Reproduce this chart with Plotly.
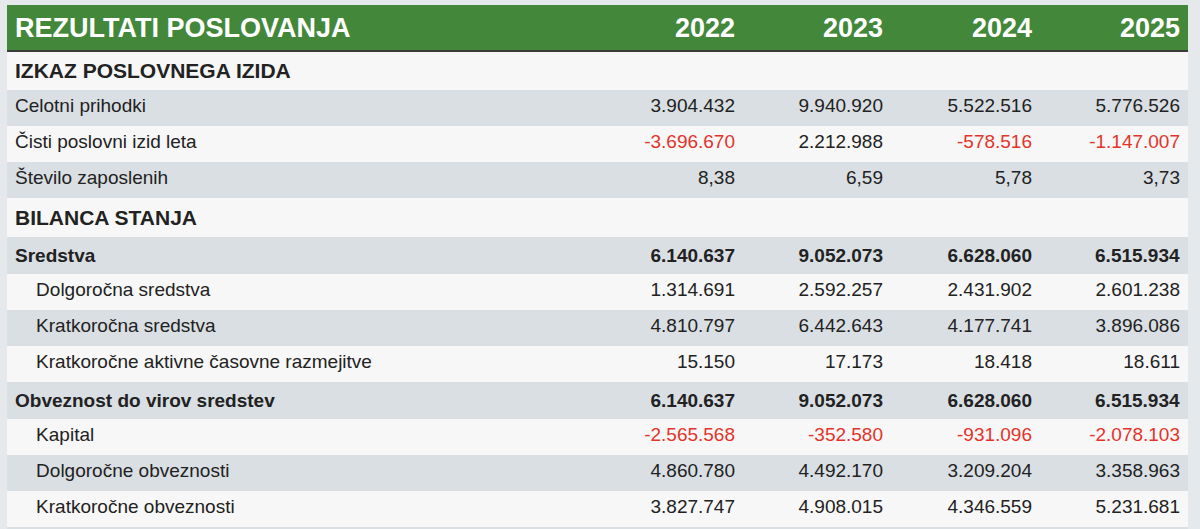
import plotly.graph_objects as go

years = ["2022", "2023", "2024", "2025"]
rows = [
    "IZKAZ POSLOVNEGA IZIDA",
    "Celotni prihodki",
    "Čisti poslovni izid leta",
    "Število zaposlenih",
    "BILANCA STANJA",
    "Sredstva",
    "Dolgoročna sredstva",
    "Kratkoročna sredstva",
    "Kratkoročne aktivne časovne razmejitve",
    "Obveznost do virov sredstev",
    "Kapital",
    "Dolgoročne obveznosti",
    "Kratkoročne obveznosti",
]
# row kind: section title, bold total, indented sub-item, plain
kinds = ["section", "plain", "plain", "plain", "section", "total", "sub", "sub", "sub",
         "total", "sub", "sub", "sub"]
v2022 = [None, 3904432, -3696670, 8.38, None, 6140637, 1314691, 4810797, 15150, 6140637, -2565568, 4860780, 3827747]
v2023 = [None, 9940920, 2212988, 6.59, None, 9052073, 2592257, 6442643, 17173, 9052073, -352580, 4492170, 4908015]
v2024 = [None, 5522516, -578516, 5.78, None, 6628060, 2431902, 4177741, 18418, 6628060, -931096, 3209204, 4346559]
v2025 = [None, 5776526, -1147007, 3.73, None, 6515934, 2601238, 3896086, 18611, 6515934, -2078103, 3358963, 5231681]

GREEN = "#43883a"
GREY_ROW = "#d9dfe2"
WHITE_ROW = "#f7f7f7"
TEXT = "#222222"
RED = "#e3342b"
BG = "#e6e9eb"
FONT = "Liberation Sans, Arial, sans-serif"


def fmt(v):
    if v is None:
        return ""
    if isinstance(v, float):
        return f"{v:.2f}".replace(".", ",")
    return f"{v:,}".replace(",", ".")


def label_text(name, kind):
    if kind == "section":
        return f"<span style='font-size:21px'><b>{name}</b></span>"
    if kind == "total":
        return f"<b>{name}</b>"
    if kind == "sub":
        return "\u00a0" * 4 + name
    return name


labels = [label_text(r, k) for r, k in zip(rows, kinds)]
value_cols = []
color_cols = []
for col in [v2022, v2023, v2024, v2025]:
    txt = []
    cols = []
    for v, k in zip(col, kinds):
        s = fmt(v)
        txt.append(f"<b>{s}</b>" if s and k == "total" else s)
        cols.append(RED if (v is not None and v < 0) else TEXT)
    value_cols.append(txt)
    color_cols.append(cols)

# extra empty row that is cut off at the bottom, as in the reference
labels.append("")
for c in value_cols:
    c.append("")
for c in color_cols:
    c.append(TEXT)

n = len(labels)
fills = [GREY_ROW if i % 2 == 1 else WHITE_ROW for i in range(n)]

fig = go.Figure(go.Table(
    columnwidth=[588, 148, 148, 149, 148],
    header=dict(
        values=["<b>REZULTATI POSLOVANJA</b>"] + [f"<b>{y}</b>" for y in years],
        fill_color=GREEN,
        line=dict(color=GREEN, width=0),
        align=["left", "right"],
        font=dict(family=FONT, size=27, color="white"),
        height=46,
    ),
    cells=dict(
        values=[labels] + value_cols,
        fill_color=[fills] * 5,
        line=dict(color=[fills] * 5, width=0),
        align=["left", "right"],
        font=dict(family=FONT, size=19, color=[[TEXT] * n] + color_cols),
        height=36,
    ),
))

fig.update_layout(
    width=1200,
    height=529,
    margin=dict(l=7, r=12, t=5, b=0),
    paper_bgcolor=BG,
    plot_bgcolor=BG,
    shapes=[dict(type="line", xref="paper", yref="paper", x0=0, x1=1,
                 y0=1 - 46 / 524, y1=1 - 46 / 524,
                 line=dict(color="#3a3a3a", width=2))],
)

fig.write_html("out.html", config={"displayModeBar": False},
               post_script="document.body.style.margin='0';document.body.style.background='" + BG + "';")
